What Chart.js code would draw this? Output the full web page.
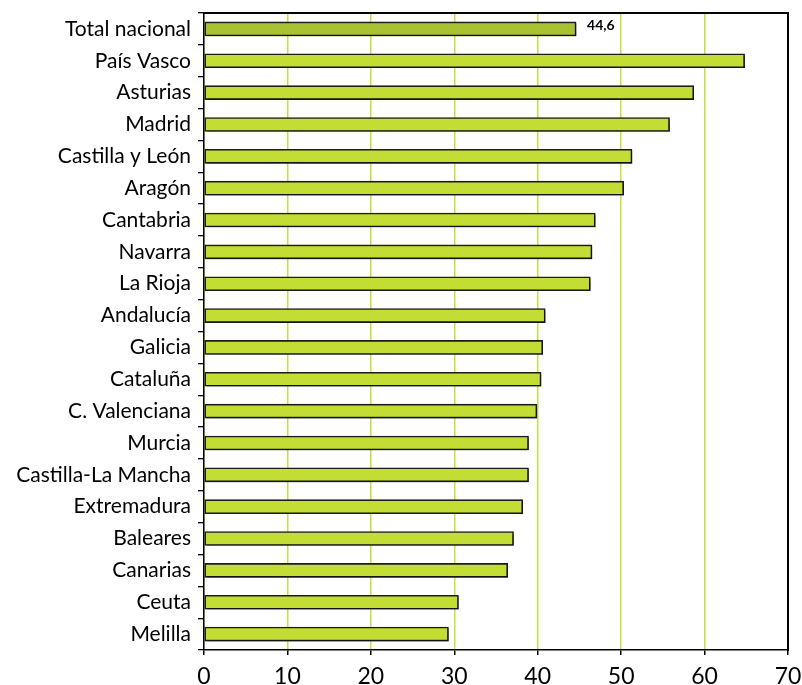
<!DOCTYPE html>
<html>
<head>
<meta charset="utf-8">
<script src="https://cdn.jsdelivr.net/npm/chart.js@4.4.1/dist/chart.umd.min.js"></script>
<style>
  html, body { margin: 0; padding: 0; background: #fff; }
  #caja { width: 802px; height: 685px; }
</style>
</head>
<body>
<div id="caja"><canvas id="grafico"></canvas></div>
<script>
// Datos
const regiones = [
  "Total nacional", "País Vasco", "Asturias", "Madrid", "Castilla y León",
  "Aragón", "Cantabria", "Navarra", "La Rioja", "Andalucía",
  "Galicia", "Cataluña", "C. Valenciana", "Murcia", "Castilla-La Mancha",
  "Extremadura", "Baleares", "Canarias", "Ceuta", "Melilla",
];
const valores = [
  44.6, 64.8, 58.7, 55.8, 51.3,
  50.3, 46.9, 46.5, 46.3, 40.9,
  40.6, 40.4, 39.9, 38.9, 38.9,
  38.2, 37.1, 36.4, 30.5, 29.3,
];
const ticksX = [0, 10, 20, 30, 40, 50, 60, 70];
const etiquetaTotal = "44,6";

const VERDE = "#c4dd35";
const VERDE_OSCURO = "#a9c232";
const REJILLA = "#c8e03a";
const FUENTE = "Lato, 'Noto Sans', sans-serif";

// sombra gris de las barras, como en el original
const sombraBarras = {
  id: "sombraBarras",
  beforeDatasetDraw(chart) {
    const ctx = chart.ctx;
    ctx.save();
    ctx.shadowColor = "rgba(0,0,0,0.35)";
    ctx.shadowOffsetX = 1.5;
    ctx.shadowOffsetY = 1.5;
    ctx.shadowBlur = 1;
  },
  afterDatasetDraw(chart) {
    chart.ctx.restore();
  },
};

// marco superior y derecho + rótulo del total nacional
const marcoYRotulo = {
  id: "marcoYRotulo",
  afterDraw(chart) {
    const ctx = chart.ctx;
    const a = chart.chartArea;
    ctx.save();
    ctx.fillStyle = "#000";
    ctx.fillRect(a.left - 1, a.top - 1, a.right - a.left + 2, 2);
    ctx.fillRect(a.right - 1, a.top - 1, 2, a.bottom - a.top + 2);

    const barra = chart.getDatasetMeta(0).data[0];
    ctx.font = "bold 14px " + FUENTE;
    ctx.textAlign = "left";
    ctx.textBaseline = "middle";
    ctx.fillText(etiquetaTotal, barra.x + 11, barra.y - 3);
    ctx.restore();
  },
};

new Chart(document.getElementById("grafico"), {
  type: "bar",
  data: {
    labels: regiones,
    datasets: [{
      data: valores,
      backgroundColor: valores.map((_, i) => (i === 0 ? VERDE_OSCURO : VERDE)),
      borderColor: "#1c1c1c",
      borderWidth: 1.6,
      borderSkipped: false,
      barThickness: 14,
    }],
  },
  options: {
    indexAxis: "y",
    responsive: true,
    maintainAspectRatio: false,
    animation: false,
    layout: { padding: { top: 13, right: 14, left: 0, bottom: 0 } },
    plugins: { legend: { display: false }, tooltip: { enabled: false } },
    scales: {
      x: {
        min: 0,
        max: 70,
        afterBuildTicks: (scale) => { scale.ticks = ticksX.map((v) => ({ value: v })); },
        afterFit: (scale) => {
          scale.height = 35;
          scale.paddingLeft = 0;
          scale.paddingRight = 0;
        },
        border: { color: "#000", width: 1.5 },
        grid: {
          color: (c) => (c.tick && c.tick.value === 70 ? "#000" : REJILLA),
          lineWidth: 1.5,
          tickColor: "#000",
          tickLength: 5,
        },
        ticks: {
          color: "#000",
          padding: 8,
          font: { family: FUENTE, size: 23 },
        },
      },
      y: {
        afterFit: (scale) => {
          scale.width = 204;
          scale.paddingTop = 0;
          scale.paddingBottom = 0;
        },
        border: { color: "#000", width: 1.5 },
        grid: {
          offset: true,
          drawOnChartArea: false,
          tickColor: "#000",
          tickLength: 6,
          lineWidth: 1.3,
        },
        ticks: {
          color: "#000",
          padding: 7,
          font: { family: FUENTE, size: 21 },
        },
      },
    },
  },
  plugins: [sombraBarras, marcoYRotulo],
});
</script>
</body>
</html>
